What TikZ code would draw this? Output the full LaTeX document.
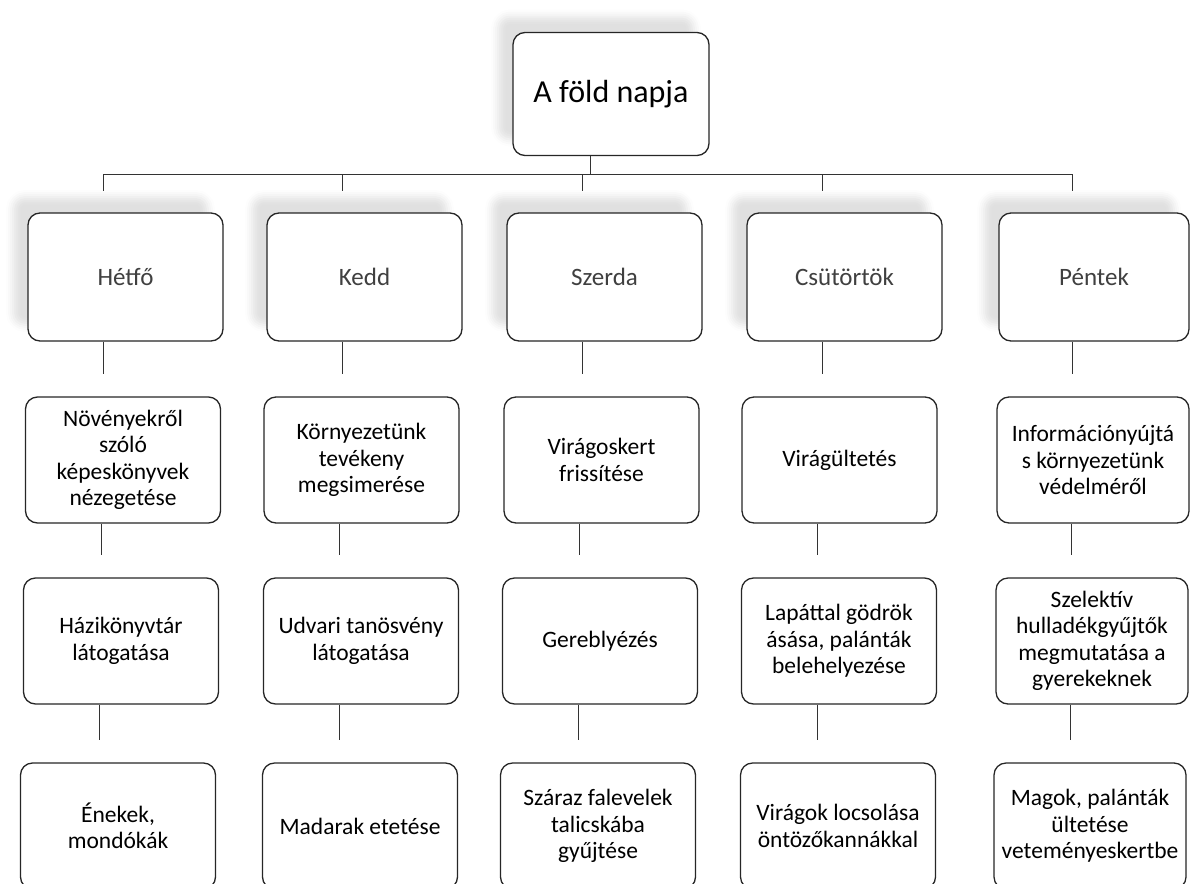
\documentclass[tikz,border=0pt]{standalone}
\usepackage{fontspec}
\setmainfont{Carlito}
\usetikzlibrary{shadows.blur}
\begin{document}
\begin{tikzpicture}[x=1pt,y=-1pt,
  box/.style={draw=black!85, line width=1.3pt, rounded corners=12pt,
    minimum width=195pt, minimum height=126pt, inner sep=0pt, align=center,
    fill=white, font=\fontsize{23.5}{26.5}\selectfont, text=black},
  daybox/.style={box, font=\fontsize{25}{30}\selectfont, text=black!75, minimum height=128pt,
    blur shadow={shadow xshift=-15pt, shadow yshift=16pt, shadow blur radius=7pt, shadow opacity=12}},
  rootbox/.style={daybox, font=\fontsize{32}{36}\selectfont, text=black, minimum height=123pt, minimum width=196pt},
  link/.style={draw=black!80, line width=1pt},
  drop/.style={link, shorten >=22pt},
]
\useasboundingbox (0,0) rectangle (1190,883);

% root
\node[rootbox] (root) at (611,94) {A föld napja};

% days
\node[daybox] (d1) at (125.5,277) {Hétfő};
\node[daybox] (d2) at (364.5,277) {Kedd};
\node[daybox] (d3) at (604.5,277) {Szerda};
\node[daybox] (d4) at (844.5,277) {Csütörtök};
\node[daybox, minimum width=190pt] (d5) at (1094,277) {Péntek};

% row 1
\node[box] (a1) at (123,460) {Növényekről\\szóló\\képeskönyvek\\nézegetése};
\node[box] (a2) at (361.5,460) {Környezetünk\\tevékeny\\megsimerése};
\node[box] (a3) at (601.5,460) {Virágoskert\\frissítése};
\node[box] (a4) at (839.5,460) {Virágültetés};
\node[box, minimum width=192pt] (a5) at (1093,460) {Információnyújtá\\s környezetünk\\védelméről};

% row 2
\node[box] (b1) at (121,641) {Házikönyvtár\\látogatása};
\node[box] (b2) at (361,641) {Udvari tanösvény\\látogatása};
\node[box] (b3) at (600,641) {Gereblyézés};
\node[box] (b4) at (839,641) {Lapáttal gödrök\\ásása, palánták\\belehelyezése};
\node[box, minimum width=192pt] (b5) at (1092,641) {Szelektív\\hulladékgyűjtők\\megmutatása a\\gyerekeknek};

% row 3
\node[box] (c1) at (118,826) {Énekek,\\mondókák};
\node[box] (c2) at (360,826) {Madarak etetése};
\node[box] (c3) at (598,826) {Száraz falevelek\\talicskába\\gyűjtése};
\node[box] (c4) at (838,826) {Virágok locsolása\\öntözőkannákkal};
\node[box, minimum width=192pt] (c5) at (1090,826) {Magok, palánták\\ültetése\\veteményeskertbe};

% bus
\coordinate (busy) at (0,174);
\draw[link] ([xshift=-21pt]root.south) -- ([xshift=-21pt]root.south |- busy);
\draw[link] ([xshift=-22pt]d1.north |- busy) -- ([xshift=-22pt]d5.north |- busy);
\foreach \d in {d1,d2,d3,d4,d5}{
  \draw[link] ([xshift=-22pt]\d.north |- busy) -- ([xshift=-22pt,yshift=21pt]\d.north);
}

% column connectors
\foreach \u/\l in {d1/a1,d2/a2,d3/a3,d4/a4,d5/a5,a1/b1,a2/b2,a3/b3,a4/b4,a5/b5,b1/c1,b2/c2,b3/c3,b4/c4,b5/c5}{
  \draw[drop] ([xshift=-22pt]\u.south) -- ([xshift=-22pt]\u.south |- \l.north);
}
\end{tikzpicture}
\end{document}
